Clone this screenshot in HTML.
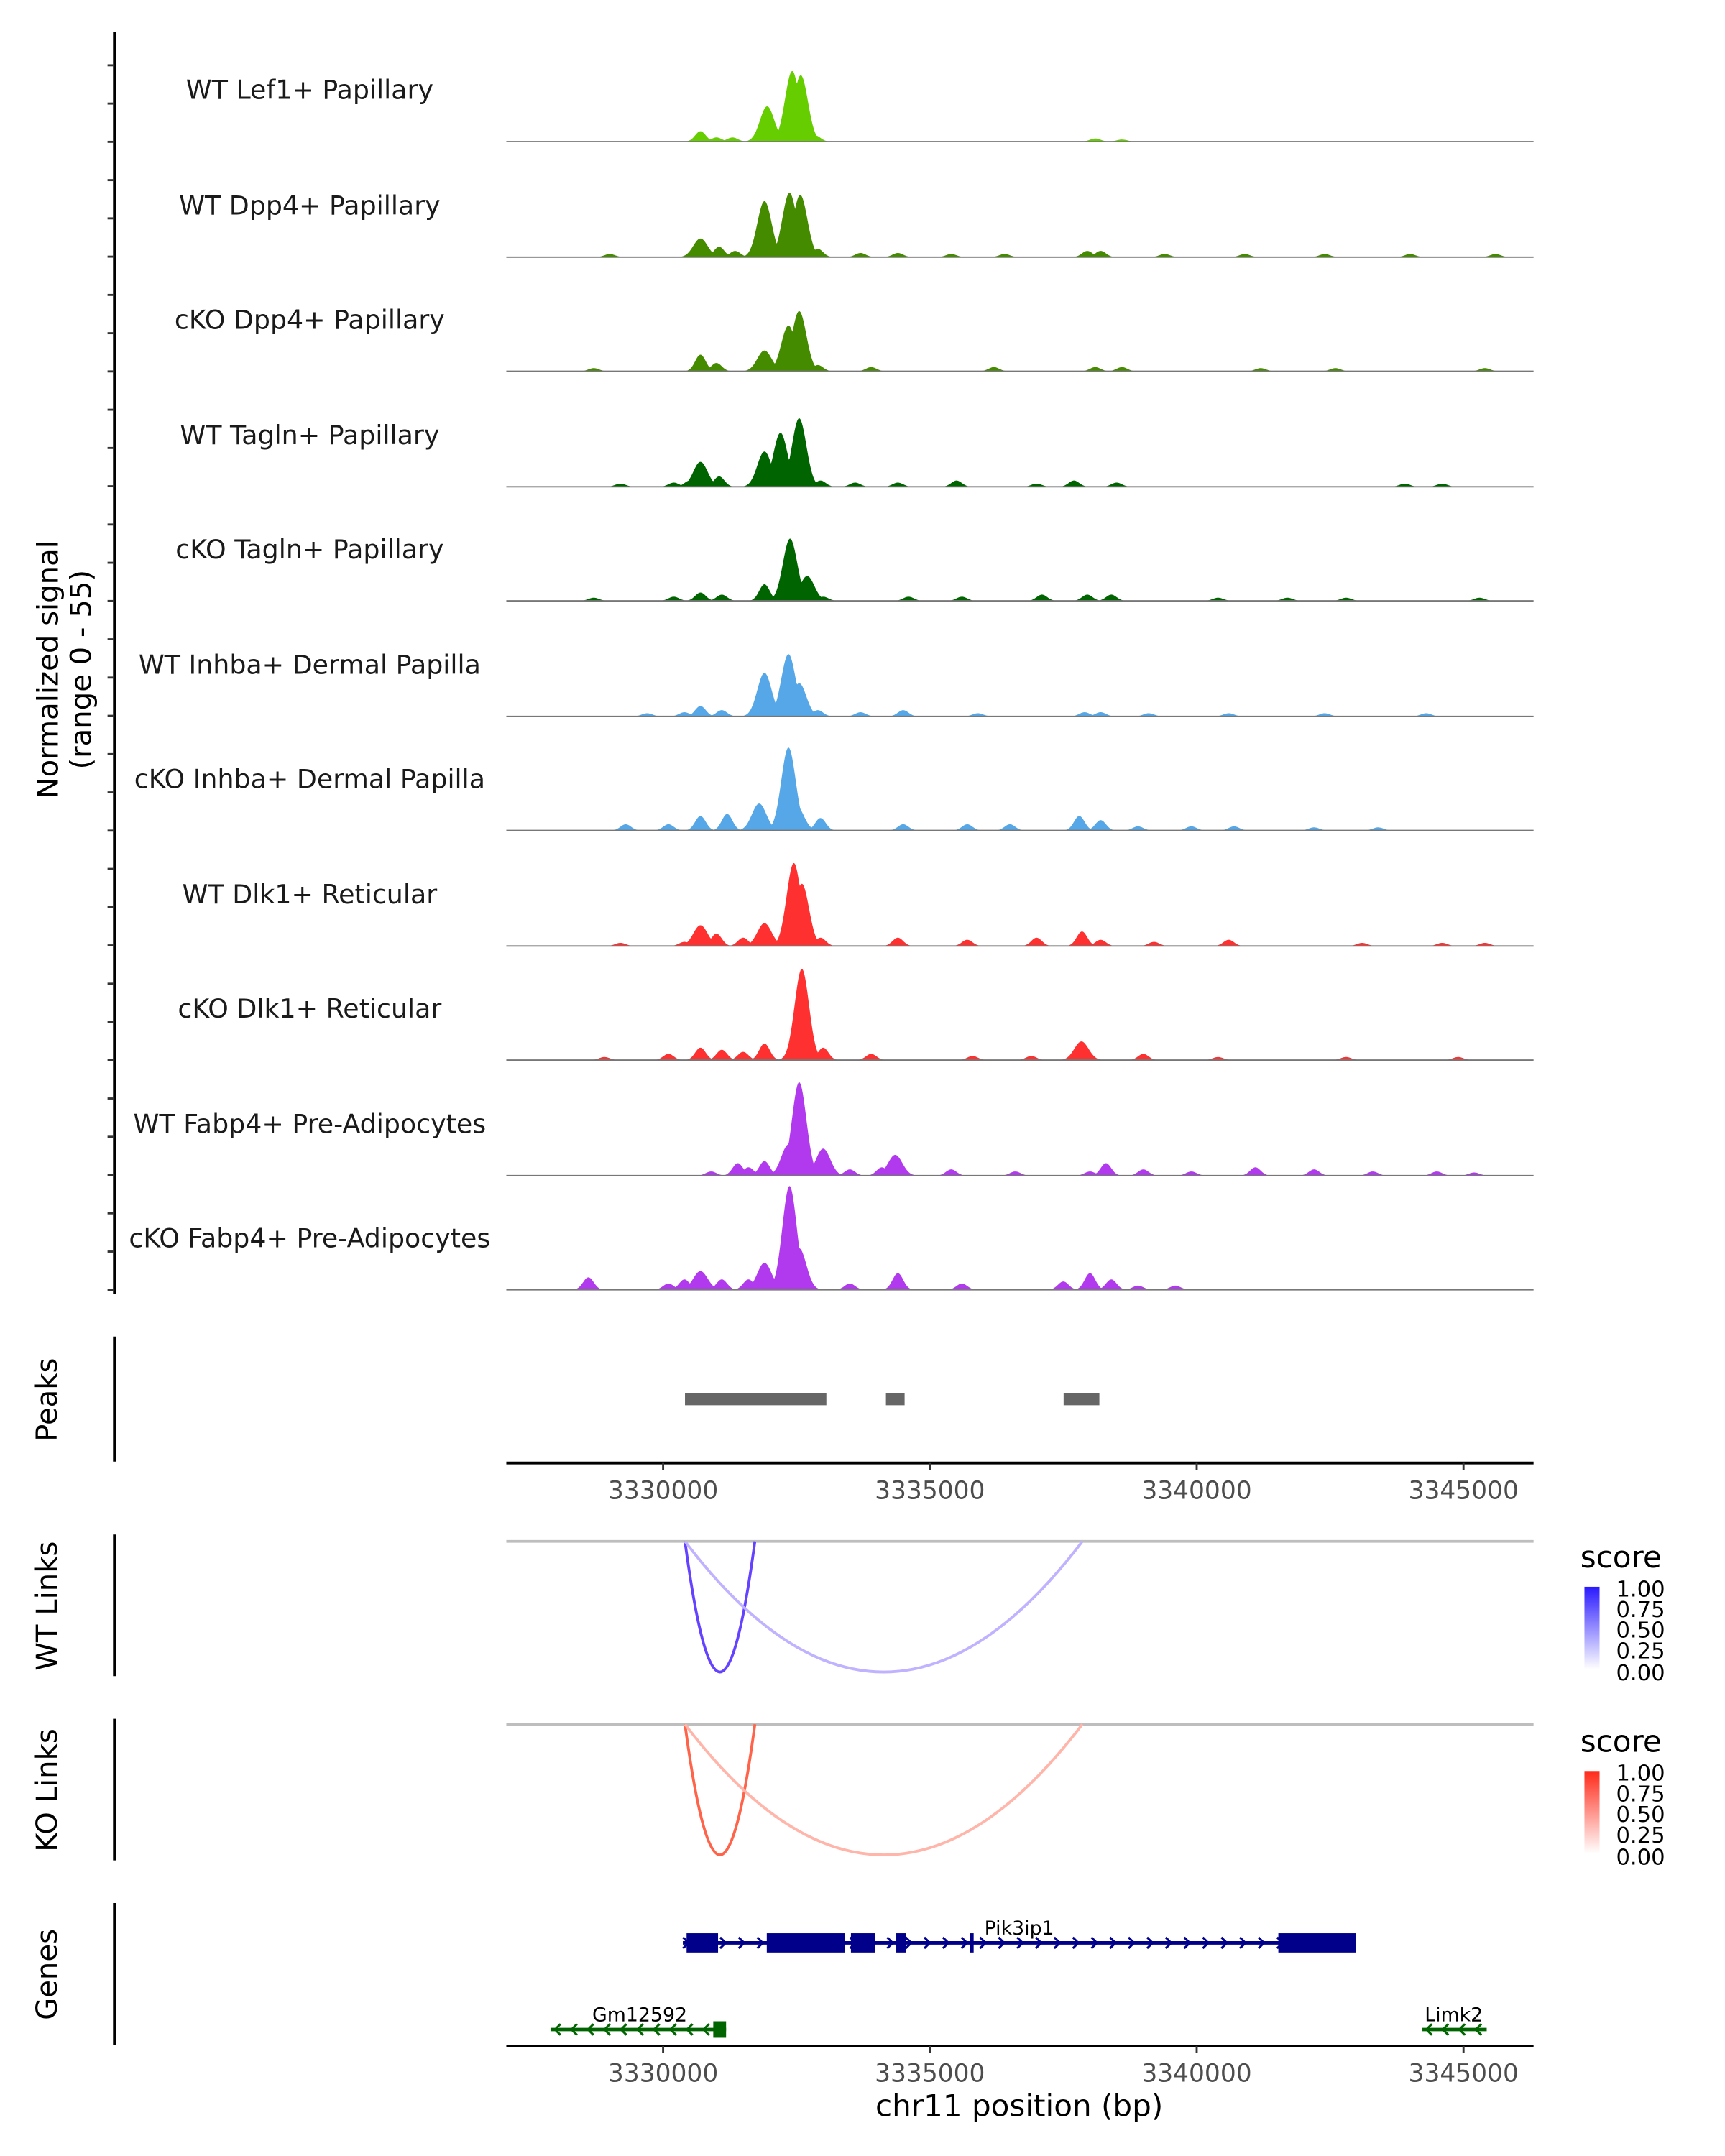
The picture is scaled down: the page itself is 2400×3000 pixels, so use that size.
<!DOCTYPE html>
<html><head><meta charset="utf-8"><style>
html,body{margin:0;padding:0;background:#fff}
svg{display:block}
text{font-family:"DejaVu Sans","Liberation Sans",sans-serif}
</style></head><body>
<svg id="chart" width="2400" height="3000" viewBox="0 0 1254 1568" xmlns="http://www.w3.org/2000/svg">
<defs>
<linearGradient id="gWT" x1="0" y1="1" x2="0" y2="0"><stop offset="0" stop-color="#ffffff"/><stop offset="1" stop-color="#2a1aff"/></linearGradient>
<linearGradient id="gKO" x1="0" y1="1" x2="0" y2="0"><stop offset="0" stop-color="#ffffff"/><stop offset="1" stop-color="#ff2a1a"/></linearGradient>
</defs>
<g id="tracks"></g>
<g id="yaxis"></g>
<text transform="translate(42,487) rotate(-90)" text-anchor="middle" font-size="21">Normalized signal</text>
<text transform="translate(66,487) rotate(-90)" text-anchor="middle" font-size="21">(range 0 - 55)</text>

<line x1="83" y1="972" x2="83" y2="1063" stroke="#000" stroke-width="2"/>
<text transform="translate(41,1018) rotate(-90)" text-anchor="middle" font-size="21">Peaks</text>
<g id="peaks"></g>
<g id="xaxis1"></g>

<line x1="83" y1="1116" x2="83" y2="1219" stroke="#000" stroke-width="2"/>
<text transform="translate(41,1168) rotate(-90)" text-anchor="middle" font-size="21">WT Links</text>
<line x1="368" y1="1121" x2="1115" y2="1121" stroke="#bebebe" stroke-width="2"/>
<g id="wtlinks"></g>
<g>
<text x="1149" y="1140" font-size="22">score</text>
<rect x="1152" y="1154" width="11" height="60" fill="url(#gWT)"/>
<text x="1175" y="1161" font-size="16">1.00</text><text x="1175" y="1176" font-size="16">0.75</text><text x="1175" y="1191" font-size="16">0.50</text><text x="1175" y="1206" font-size="16">0.25</text><text x="1175" y="1222" font-size="16">0.00</text>
</g>

<line x1="83" y1="1250" x2="83" y2="1353" stroke="#000" stroke-width="2"/>
<text transform="translate(41,1302) rotate(-90)" text-anchor="middle" font-size="21">KO Links</text>
<line x1="368" y1="1254" x2="1115" y2="1254" stroke="#bebebe" stroke-width="2"/>
<g id="kolinks"></g>
<g>
<text x="1149" y="1274" font-size="22">score</text>
<rect x="1152" y="1288" width="11" height="60" fill="url(#gKO)"/>
<text x="1175" y="1295" font-size="16">1.00</text><text x="1175" y="1310" font-size="16">0.75</text><text x="1175" y="1325" font-size="16">0.50</text><text x="1175" y="1340" font-size="16">0.25</text><text x="1175" y="1356" font-size="16">0.00</text>
</g>

<line x1="83" y1="1384" x2="83" y2="1487" stroke="#000" stroke-width="2"/>
<text transform="translate(41,1436) rotate(-90)" text-anchor="middle" font-size="21">Genes</text>
<g id="genes"></g>
<g id="xaxis2"></g>
<text x="741" y="1539" text-anchor="middle" font-size="22">chr11 position (bp)</text>
</svg>
<script>
const trackNames=["WT Lef1+ Papillary","WT Dpp4+ Papillary","cKO Dpp4+ Papillary","WT Tagln+ Papillary","cKO Tagln+ Papillary","WT Inhba+ Dermal Papilla","cKO Inhba+ Dermal Papilla","WT Dlk1+ Reticular","cKO Dlk1+ Reticular","WT Fabp4+ Pre-Adipocytes","cKO Fabp4+ Pre-Adipocytes"];
const trackColors=["#66cd00","#458b00","#458b00","#006400","#006400","#56a7e8","#56a7e8","#ff3030","#ff3030","#b23aee","#b23aee"];
const peakPos=[
[3330700,3331000,3331300,3331950,3332420,3332580,3332850,3338100,3338600],
[3329000,3330700,3331050,3331350,3331900,3332370,3332570,3332900,3333700,3334400,3335400,3336400,3337950,3338200,3339400,3340900,3342400,3344000,3345600],
[3328700,3330700,3331000,3331900,3332350,3332550,3332900,3333900,3336200,3338100,3338600,3341200,3342600,3345400],
[3329200,3330200,3330500,3330700,3331050,3331900,3332200,3332550,3332950,3333600,3334400,3335500,3337000,3337700,3338500,3343900,3344600],
[3328700,3330200,3330700,3331100,3331900,3332380,3332700,3333000,3334600,3335600,3337100,3337950,3338400,3340400,3341700,3342800,3345300],
[3329700,3330400,3330700,3331100,3331900,3332350,3332550,3332900,3333700,3334500,3335900,3337900,3338200,3339100,3340600,3342400,3344300],
[3329300,3330100,3330700,3331200,3331800,3332350,3332500,3332950,3334500,3335700,3336500,3337800,3338200,3338900,3339900,3340700,3342200,3343400],
[3329200,3330400,3330700,3331000,3331500,3331900,3332450,3332600,3332950,3334400,3335700,3337000,3337850,3338200,3339200,3340600,3343100,3344600,3345400],
[3328900,3330100,3330700,3331100,3331500,3331900,3332600,3333000,3333900,3335800,3336900,3337840,3339000,3340400,3342800,3344900],
[3330900,3331400,3331600,3331900,3332350,3332550,3333000,3333500,3334100,3334350,3335400,3336600,3338000,3338300,3339000,3339900,3341100,3342200,3343300,3344500,3345200],
[3328600,3330100,3330400,3330700,3331100,3331600,3331900,3332370,3332550,3333500,3334400,3335600,3337500,3338000,3338400,3338900,3339600]
];
const peakHeight=[
[5,2,2,17,34,32,3,1.5,1],
[1.5,9,5,3,27,31,30,4,2,2,1.5,1.5,3,3,1.5,1.5,1.5,1.5,1.5],
[1.5,8,4,10,22,29,3,2,2,2,2,1.5,1.5,1.5],
[1.5,2,3,12,5,17,26,33,3,2,2,3,1.5,3,2,1.5,1.5],
[1.5,2,4,3,8,30,12,2,2,2,3,3,3,1.5,1.5,1.5,1.5],
[1.5,2,5,3,21,30,16,3,2,3,1.5,2,2,1.5,1.5,1.5,1.5],
[3,3,7,8,13,40,12,6,3,3,3,7,5,2,2,2,1.5,1.5],
[1.5,2,10,6,4,11,40,30,4,4,3,4,7,3,2,3,1.5,1.5,1.5],
[1.5,3,6,5,4,8,44,6,3,2,2,9,3,1.5,1.5,1.5],
[2,6,4,7,15,45,13,3,4,10,3,2,2,6,3,2,4,3,2,2,1.5],
[6,3,5,9,5,5,13,50,20,3,8,3,4,8,5,2,2]
];
const peakLinks=[[3330410,3331720,0.85],[3330410,3337857,0.2]];
const koLinks=[[3330410,3331720,0.8],[3330410,3337857,0.25]];
const peakStart=[3330410,3334176,3337506];
const peakEnd=[3333060,3334526,3338176];
const xTicks=[3330000,3335000,3340000,3345000];
const pikExonStart=[3330440,3331943,3333520,3334370,3335745,3341530];
const pikExonEnd=[3331030,3333400,3333970,3334550,3335820,3342990];
const gmExonStart=[3330940];const gmExonEnd=[3331180];

const NS="http://www.w3.org/2000/svg";
const X0=368,X1=1115,BP0=3327062,BP1=3346313;
const xs=bp=>X0+(bp-BP0)/(BP1-BP0)*(X1-X0);
const PXU=83/55;
function el(tag,attrs,parent){const e=document.createElementNS(NS,tag);for(const k in attrs)e.setAttribute(k,attrs[k]);parent.appendChild(e);return e;}

const tracksG=document.getElementById('tracks');
const baselines=[103,187,270,354,437,521,604,688,771,855,938];
trackNames.forEach((nm,i)=>{
  const b=baselines[i];
  const g=el('g',{},tracksG);
  
  
  let d='M'+X0+','+b;
  for(let px=X0;px<=X1;px+=0.5){
    const bp=BP0+(px-X0)/(X1-X0)*(BP1-BP0);
    let v=0;
    peakPos[i].forEach((c,j)=>{const h=peakHeight[i][j];const w=h>8?190:140;const t=(bp-c)/w;const y=h*Math.exp(-t*t);if(y>v)v=y;});
    d+=' L'+px+','+(b-v*PXU).toFixed(2);
  }
  d+=' L'+X1+','+b+' Z';
  const p=el('path',{d:d,fill:trackColors[i]},g);
  
  
  const l=el('line',{x1:X0,y1:b,x2:X1,y2:b,stroke:'#777','stroke-width':1},g);
  
  
  const t=el('text',{x:225,y:b-31,'text-anchor':'middle','font-size':19,fill:'#1a1a1a'},g);
  t.textContent=nm;
  
  
});
const ya=document.getElementById('yaxis');
el('line',{x1:83,y1:23,x2:83,y2:941,stroke:'#000','stroke-width':2},ya);
for(let y=47.5;y<=941;y+=27.83){el('line',{x1:78,y1:y,x2:83,y2:y,stroke:'#333','stroke-width':1.5},ya);}

const pk=document.getElementById('peaks');
peakStart.forEach((s,i)=>{const r=el('rect',{x:xs(s),y:1013,width:xs(peakEnd[i])-xs(s),height:9,fill:'#666'},pk);

});

function xaxis(id,y){const g=document.getElementById(id);
el('line',{x1:X0,y1:y,x2:X1,y2:y,stroke:'#000','stroke-width':2},g);
xTicks.forEach(t=>{const x=xs(t);el('line',{x1:x,y1:y,x2:x,y2:y+5,stroke:'#333','stroke-width':1.5},g);
const tx=el('text',{x:x,y:y+26,'text-anchor':'middle','font-size':18,fill:'#4d4d4d'},g);tx.textContent=t;

});}
xaxis('xaxis1',1064);xaxis('xaxis2',1488);

function links(id,data,base,rgb){const g=document.getElementById(id);
data.forEach(([a,b,s])=>{const xa=xs(a),xb=xs(b);const depth=95;
const c=rgb.map(v=>Math.round(255-(255-v)*(0.2+0.8*s)));
const p=el('path',{d:`M${xa},${base} Q${(xa+xb)/2},${base+2*depth} ${xb},${base}`,fill:'none',stroke:`rgb(${c})`,'stroke-width':2},g);

});}
links('wtlinks',peakLinks,1121,[80,40,255]);
links('kolinks',koLinks,1254,[255,70,40]);

const gg=document.getElementById('genes');
function chevrons(x0,x1,y,dir,col,step){for(let x=x0;x<=x1;x+=step){const d=dir>0?`M${x-3},${y-4} L${x+1},${y} L${x-3},${y+4}`:`M${x+3},${y-4} L${x-1},${y} L${x+3},${y+4}`;el('path',{d:d,fill:'none',stroke:col,'stroke-width':1.6},gg);}}
const pikY=1413,PC='#00008b';
el('line',{x1:xs(3330370),y1:pikY,x2:xs(3342990),y2:pikY,stroke:PC,'stroke-width':2.5},gg);
chevrons(xs(3330450),xs(3342900),pikY,1,PC,13.5);
pikExonStart.forEach((s,i)=>{const r=el('rect',{x:xs(s),y:pikY-7,width:Math.max(2,xs(pikExonEnd[i])-xs(s)),height:14,fill:PC},gg);

});
let t=el('text',{x:741,y:1407,'text-anchor':'middle','font-size':14},gg);t.textContent='Pik3ip1';
const gmY=1476,GC='#006400';
el('line',{x1:xs(3327890),y1:gmY,x2:xs(3331180),y2:gmY,stroke:GC,'stroke-width':2.5},gg);
chevrons(xs(3328000),xs(3330900),gmY,-1,GC,12);
gmExonStart.forEach((s,i)=>{el('rect',{x:xs(s),y:gmY-6,width:xs(gmExonEnd[i])-xs(s),height:12,fill:GC},gg);});
t=el('text',{x:465,y:1470,'text-anchor':'middle','font-size':14},gg);t.textContent='Gm12592';
el('line',{x1:xs(3344230),y1:gmY,x2:xs(3345435),y2:gmY,stroke:GC,'stroke-width':2.5},gg);
chevrons(xs(3344330),xs(3345330),gmY,-1,GC,12);
t=el('text',{x:1057,y:1470,'text-anchor':'middle','font-size':14},gg);t.textContent='Limk2';
</script>
</body></html>
